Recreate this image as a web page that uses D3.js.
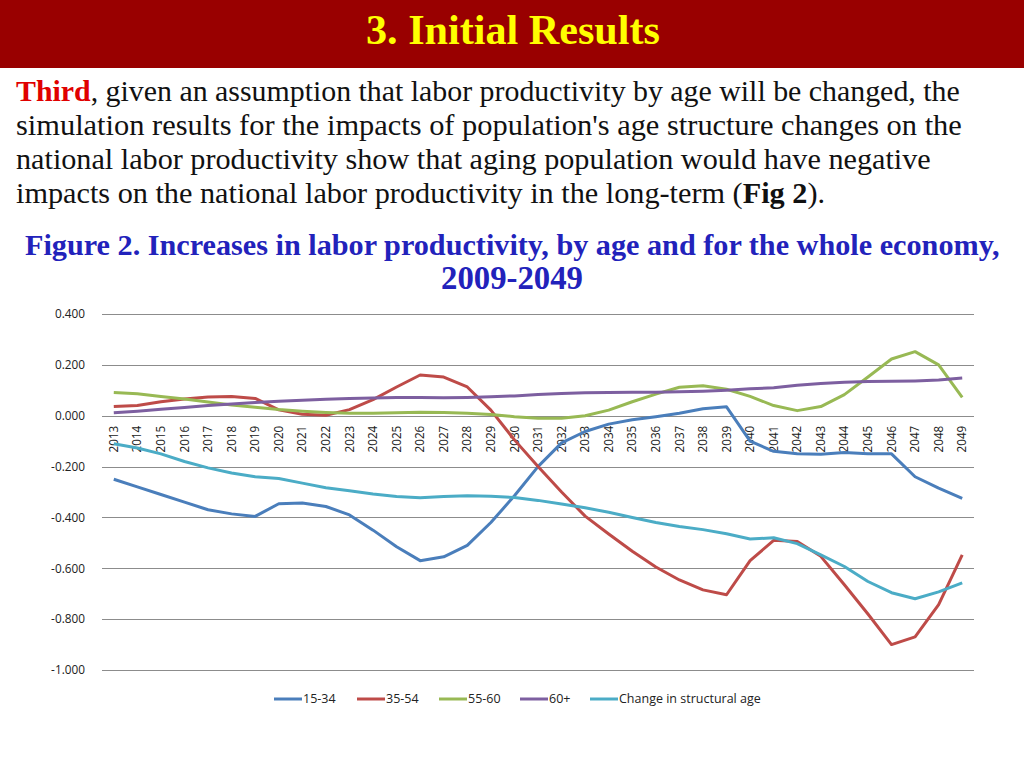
<!DOCTYPE html>
<html>
<head>
<meta charset="utf-8">
<script src="https://cdn.jsdelivr.net/npm/d3@7"></script>
<style>
  body { margin: 0; background: #fff; }
  svg { display: block; }
</style>
</head>
<body>
<div class="canvas"></div>
<script>
// data
const years = d3.range(2013, 2050).map(String);
const yTicks = [0.4, 0.2, 0, -0.2, -0.4, -0.6, -0.8, -1.0];

const age1534 = [-0.25, -0.28, -0.31, -0.34, -0.37, -0.386, -0.396, -0.346, -0.343, -0.357, -0.39, -0.45,
  -0.515, -0.57, -0.555, -0.51, -0.42, -0.315, -0.2, -0.107, -0.062, -0.033, -0.016, -0.004, 0.01,
  0.027, 0.035, -0.1, -0.14, -0.15, -0.152, -0.145, -0.15, -0.15, -0.24, -0.285, -0.325];
const age3554 = [0.036, 0.04, 0.055, 0.066, 0.074, 0.076, 0.068, 0.023, 0.006, 0.002, 0.024, 0.063,
  0.113, 0.16, 0.152, 0.113, 0.022, -0.095, -0.2, -0.3, -0.395, -0.465, -0.533, -0.595, -0.646,
  -0.685, -0.704, -0.57, -0.49, -0.495, -0.553, -0.665, -0.78, -0.9, -0.87, -0.743, -0.547];
const age5560 = [0.091, 0.086, 0.076, 0.066, 0.054, 0.042, 0.033, 0.024, 0.018, 0.013, 0.01, 0.01,
  0.012, 0.014, 0.013, 0.01, 0.005, -0.004, -0.01, -0.01, 0.0, 0.022, 0.055, 0.085, 0.112,
  0.118, 0.104, 0.076, 0.04, 0.02, 0.036, 0.083, 0.152, 0.223, 0.252, 0.2, 0.072];
const age60p = [0.012, 0.018, 0.025, 0.032, 0.04, 0.046, 0.052, 0.057, 0.061, 0.065, 0.068, 0.07,
  0.072, 0.072, 0.071, 0.072, 0.075, 0.078, 0.083, 0.087, 0.09, 0.091, 0.092, 0.092, 0.094,
  0.096, 0.1, 0.106, 0.11, 0.12, 0.127, 0.132, 0.135, 0.136, 0.137, 0.14, 0.148];
const structAge = [-0.11, -0.127, -0.15, -0.18, -0.205, -0.225, -0.24, -0.247, -0.265, -0.283, -0.295, -0.308,
  -0.318, -0.323, -0.318, -0.315, -0.317, -0.322, -0.333, -0.347, -0.362, -0.38, -0.4, -0.42, -0.436,
  -0.448, -0.464, -0.485, -0.48, -0.503, -0.547, -0.593, -0.652, -0.696, -0.72, -0.693, -0.657];

const seriesNames = ['15-34', '35-54', '55-60', '60+', 'Change in structural age'];
const seriesValues = [age1534, age3554, age5560, age60p, structAge];
const colors = ['#4a7ebb', '#be4b48', '#98b954', '#7d5fa0', '#4bacc6'];

const width = 1024, height = 768;
const plot = { left: 102, right: 974, top: 314, bottom: 670 };

const svg = d3.select('.canvas')
  .append('svg')
  .attr('width', width)
  .attr('height', height);

// squeeze a text element into a given width
const fitWidth = (sel, target) => {
  const w = sel.node().getComputedTextLength();
  if (w > target) {
    sel.attr('textLength', target).attr('lengthAdjust', 'spacingAndGlyphs');
  } else {
    const fs = parseFloat(sel.attr('font-size'));
    sel.attr('font-size', (fs * target / w).toFixed(2));
  }
};

// title bar
svg.append('rect')
  .attr('width', width)
  .attr('height', 68)
  .attr('fill', '#990000');

const title = svg.append('text')
  .attr('x', 366)
  .attr('y', 44)
  .attr('font-family', '"Liberation Serif", serif')
  .attr('font-weight', 'bold')
  .attr('font-size', 42)
  .attr('fill', '#ffff00')
  .text('3. Initial Results');
fitWidth(title, 294);

// body text
const bodyLines = [
  { y: 101, w: 944, parts: [['Third', 'bold', '#e00000'], [', given an assumption that labor productivity by age will be changed, the']] },
  { y: 135, w: 946, parts: [['simulation results for the impacts of population\'s age structure changes on the']] },
  { y: 169, w: 915, parts: [['national labor productivity show that aging population would have negative']] },
  { y: 203, w: 809, parts: [['impacts on the national labor productivity in the long-term ('], ['Fig 2', 'bold'], [').']] }
];

bodyLines.forEach(line => {
  const t = svg.append('text')
    .attr('x', 16)
    .attr('y', line.y)
    .attr('font-family', '"Liberation Serif", serif')
    .attr('font-size', 27)
    .attr('fill', '#111');
  line.parts.forEach(p => {
    t.append('tspan')
      .attr('font-weight', p[1] || 'normal')
      .attr('fill', p[2] || '#111')
      .text(p[0]);
  });
  fitWidth(t, line.w);
});

// figure caption
const cap1 = svg.append('text')
  .attr('x', 25)
  .attr('y', 255)
  .attr('font-family', '"Liberation Serif", serif')
  .attr('font-weight', 'bold')
  .attr('font-size', 27)
  .attr('fill', '#2222bb')
  .text('Figure 2. Increases in labor productivity, by age and for the whole economy,');
fitWidth(cap1, 975);

const cap2 = svg.append('text')
  .attr('x', 441)
  .attr('y', 289)
  .attr('font-family', '"Liberation Serif", serif')
  .attr('font-weight', 'bold')
  .attr('font-size', 27)
  .attr('fill', '#2222bb')
  .text('2009-2049');
fitWidth(cap2, 142);

// scales
const x = d3.scaleBand()
  .domain(years)
  .range([plot.left, plot.right]);

const y = d3.scaleLinear()
  .domain([-1.0, 0.4])
  .range([plot.bottom, plot.top]);

// gridlines
const grid = svg.append('g')
  .attr('transform', `translate(${plot.left}, 0)`)
  .call(d3.axisLeft(y)
    .tickValues(yTicks)
    .tickSize(-(plot.right - plot.left))
    .tickFormat(''));
grid.select('.domain').remove();
grid.selectAll('line')
  .attr('stroke', '#8c8c8c')
  .attr('stroke-width', 1)
  .attr('shape-rendering', 'crispEdges');

// y labels
const yAxis = svg.append('g')
  .attr('transform', `translate(${plot.left - 14}, 0)`)
  .call(d3.axisLeft(y)
    .tickValues(yTicks)
    .tickSize(0)
    .tickFormat(d3.format('.3f')));
yAxis.select('.domain').remove();
yAxis.selectAll('text')
  .attr('font-family', '"Open Sans", sans-serif')
  .attr('font-size', 11.8)
  .attr('fill', '#222')
  .text(d => d3.format('.3f')(d).replace('−', '-'));

// x labels along zero line
const xAxis = svg.append('g')
  .attr('transform', `translate(0, ${y(0)})`)
  .call(d3.axisBottom(x).tickSize(0));
xAxis.select('.domain').remove();
xAxis.selectAll('text')
  .attr('font-family', '"Open Sans", sans-serif')
  .attr('font-size', 11.7)
  .attr('fill', '#222')
  .attr('text-anchor', 'end')
  .attr('transform', 'rotate(-90)')
  .attr('x', -10)
  .attr('y', 0)
  .attr('dy', '0.35em');

// lines
const line = d3.line()
  .x((d, i) => x(years[i]) + x.bandwidth() / 2)
  .y(d => y(d));

svg.append('g')
  .selectAll('path')
  .data(seriesValues)
  .enter()
  .append('path')
  .attr('d', line)
  .attr('fill', 'none')
  .attr('stroke', (d, i) => colors[i])
  .attr('stroke-width', 3)
  .attr('stroke-linejoin', 'round');

// legend
const legendX = [274, 357, 439, 520, 590];
const legend = svg.append('g');
const items = legend.selectAll('g')
  .data(seriesNames)
  .enter()
  .append('g')
  .attr('transform', (d, i) => `translate(${legendX[i]}, 699)`);

items.append('line')
  .attr('x1', 0)
  .attr('x2', 28)
  .attr('stroke', (d, i) => colors[i])
  .attr('stroke-width', 3);

items.append('text')
  .attr('x', 29)
  .attr('dy', '0.35em')
  .attr('font-family', '"Open Sans", sans-serif')
  .attr('font-size', 12.5)
  .attr('fill', '#222')
  .text(d => d);
</script>
</body>
</html>
